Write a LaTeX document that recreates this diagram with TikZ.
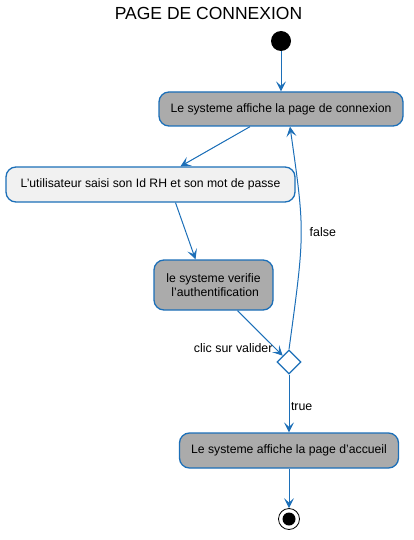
\documentclass[tikz,border=0pt]{standalone}
\usepackage{fontspec}
\setmainfont{Liberation Sans}
\usetikzlibrary{arrows.meta,shapes.geometric}

\definecolor{FlowBlue}{HTML}{1C6FB8}
\definecolor{ActGray}{HTML}{ABABAB}
\definecolor{ActLight}{HTML}{F1F1F1}

\tikzstyle{activity}=[rectangle, rounded corners=10pt, draw=FlowBlue, line width=1.3pt, fill=ActGray, align=center, inner sep=0pt, font=\fontsize{12.2}{14.5}\selectfont]
\tikzstyle{flow}=[draw=FlowBlue, line width=1pt, -{Stealth[length=10pt, width=10pt, inset=4.5pt]}]
\tikzstyle{flow-label}=[font=\fontsize{12.4}{14}\selectfont, inner sep=1.5pt]

\begin{document}
\begin{tikzpicture}[x=1pt, y=1pt]
      \useasboundingbox (0,0) rectangle (413,-540);
      \node (title) at (208.5,-13) {\fontsize{17.5}{20}\selectfont PAGE DE CONNEXION};

      \node (act-start) at (281,-41) [circle, fill=black, minimum size=20pt, inner sep=0pt] {};
      \node (act-connexion) at (281,-109) [activity, minimum width=244pt, minimum height=34pt] {Le systeme affiche la page de connexion};
      \node (act-saisie) at (150.5,-184.5) [activity, fill=ActLight, minimum width=289pt, minimum height=35pt] {L'utilisateur saisi son Id RH et son mot de passe};
      \node (act-verif) at (213.5,-285) [activity, minimum width=119pt, minimum height=50pt] {le systeme verifie\\ \ l'authentification};
      \node (act-choix) at (289,-362) [diamond, draw=FlowBlue, line width=1.3pt, fill=white, minimum width=24pt, minimum height=24pt, inner sep=0pt] {};
      \node (act-accueil) at (289,-450.5) [activity, minimum width=219pt, minimum height=35pt] {Le systeme affiche la page d'accueil};
      \node (act-end) at (289,-519) [circle, draw=black, line width=0.8pt, fill=white, minimum size=21pt, inner sep=0pt] {};
      \fill (act-end.center) circle (6.5pt);
      \coordinate (act-bend) at (305,-232);

      \draw[flow] (act-start) -- (act-connexion);
      \draw[flow] ([xshift=-31pt]act-connexion.south) -- ([xshift=30pt]act-saisie.north);
      \draw[flow] ([xshift=25pt]act-saisie.south) -- ([xshift=-18pt]act-verif.north);
      \draw[flow] ([xshift=24pt]act-verif.south) -- (act-choix.north west) node[flow-label, pos=0.82, anchor=east] {clic sur valider};
      \draw[flow] (act-choix.north) .. controls (act-bend) .. ([xshift=9pt]act-connexion.south);
      \node[flow-label, anchor=west] at ([xshift=3pt]act-bend) {false};
      \draw[flow] (act-choix.south) -- (act-accueil.north) node[flow-label, pos=0.55, anchor=west] {true};
      \draw[flow] (act-accueil) -- (act-end);
\end{tikzpicture}
\end{document}
